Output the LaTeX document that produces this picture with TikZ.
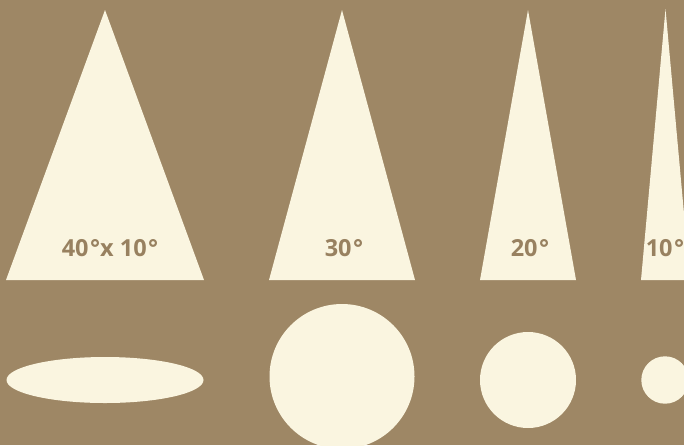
\documentclass[tikz,border=0pt]{standalone}
\usepackage{fontspec}
\setmainfont{Open Sans}
\usepackage{tikz}
\definecolor{mybrown}{RGB}{158,135,101}
\definecolor{mycream}{RGB}{250,245,224}
\definecolor{mylabel}{RGB}{152,129,96}
\newcommand{\degsign}{\hspace{1.5pt}°}
\tikzset{
  cone/.style={fill=mycream,draw=none},
  disc/.style={fill=mycream,draw=none},
  anglelabel/.style={anchor=base,inner sep=0pt,text=mylabel,
    font=\fontsize{23.5}{26}\selectfont\bfseries}
}

\begin{document}
\begin{tikzpicture}[x=1pt,y=-1pt]
  % ── Canvas ────────────────────────────────────────────────────────────────
  \useasboundingbox (0,0) rectangle (684,445);
  \clip (0,0) rectangle (684,445);
  \fill[mybrown] (0,0) rectangle (684,445);

  % ── Cones (side view) ────────────────────────────────────────────────────
  \fill[cone] (105,10)  -- (204,280) -- (6,280)   -- cycle;
  \fill[cone] (342,10)  -- (415,280) -- (269,280) -- cycle;
  \fill[cone] (528,10)  -- (576,280) -- (480,280) -- cycle;
  \fill[cone] (665.5,9) -- (690,280) -- (641,280) -- cycle;

  % ── Beam angles ──────────────────────────────────────────────────────────
  \node[anglelabel] (lbla) at (110,256) {40\degsign x 10\degsign};
  \node[anglelabel] (lblb) at (344,256) {30\degsign};
  \node[anglelabel] (lblc) at (530,256) {20\degsign};
  \node[anglelabel] (lbld) at (665,256) {10\degsign};

  % ── Footprints (cross sections) ──────────────────────────────────────────
  \fill[disc] (105,380) ellipse [x radius=98.5, y radius=23];
  \fill[disc] (342,376.5) circle (72.5);
  \fill[disc] (528,380) circle (48);
  \fill[disc] (665,380) circle (23.7);
\end{tikzpicture}
\end{document}
